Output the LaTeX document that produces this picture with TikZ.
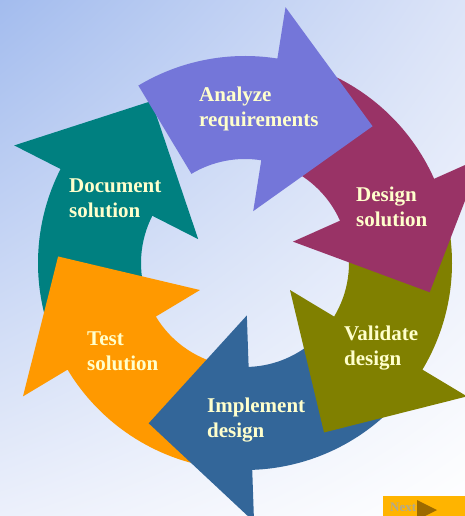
\documentclass[tikz,border=0pt]{standalone}
\usepackage{fontspec}
\setmainfont{Liberation Serif}
\usetikzlibrary{shadings}

\begin{document}
\begin{tikzpicture}[x=1pt,y=1pt,
		steplabel/.style={anchor=base west,align=left,inner sep=0pt,text=cream,font=\bfseries\fontsize{21}{25}\selectfont}]
					\definecolor{bgtopleft}{HTML}{A3BCEE}
					\definecolor{bgtopright}{HTML}{DCE4F8}
					\definecolor{bgbottomleft}{HTML}{ECF0FB}
					\definecolor{cream}{HTML}{FFFFCC}
					\definecolor{analyzeblue}{HTML}{7476D9}
					\definecolor{designred}{HTML}{993366}
					\definecolor{validateolive}{HTML}{808000}
					\definecolor{implementblue}{HTML}{336699}
					\definecolor{testorange}{HTML}{FF9900}
					\definecolor{documentteal}{HTML}{008080}
					\definecolor{buttonorange}{HTML}{FFB400}
					\definecolor{buttontext}{HTML}{B3A98C}
					\definecolor{buttonarrow}{HTML}{9C6A00}
					\useasboundingbox (-245,-253) rectangle (220,263);
					\shade[upper left=bgtopleft,upper right=bgtopright,lower left=bgbottomleft,lower right=white] (-245,-253) rectangle (220,263);
					
					\fill[documentteal] (200:104pt) arc[start angle=200,end angle=153,radius=104pt] -- (153:52.5pt) -- (120:187pt) -- (153:259pt) -- (153:207pt) arc[start angle=153,end angle=200,radius=207pt] -- cycle;
					\fill[testorange] (262:104pt) arc[start angle=262,end angle=211,radius=104pt] -- (211:52.5pt) -- (178:187pt) -- (211:259pt) -- (211:207pt) arc[start angle=211,end angle=262,radius=207pt] -- cycle;
					\fill[implementblue] (-41:104pt) arc[start angle=-41,end angle=-88,radius=104pt] -- (-88:52.5pt) -- (-121:187pt) -- (-88:259pt) -- (-88:207pt) arc[start angle=-88,end angle=-41,radius=207pt] -- cycle;
					\fill[validateolive] (14:104pt) arc[start angle=14,end angle=-31,radius=104pt] -- (-31:52.5pt) -- (-65:187pt) -- (-31:259pt) -- (-31:207pt) arc[start angle=-31,end angle=14,radius=207pt] -- cycle;
					\fill[designred] (71:104pt) arc[start angle=71,end angle=24,radius=104pt] -- (24:52.5pt) -- (-9:187pt) -- (24:259pt) -- (24:207pt) arc[start angle=24,end angle=71,radius=207pt] -- cycle;
					\fill[analyzeblue] (121:104pt) arc[start angle=121,end angle=81,radius=104pt] -- (81:52.5pt) -- (47:187pt) -- (81:259pt) -- (81:207pt) arc[start angle=81,end angle=121,radius=207pt] -- cycle;
					
					\node[steplabel] (analyze) at (-46,136) {Analyze\\requirements};
					\node[steplabel] (design) at (111,36) {Design\\solution};
					\node[steplabel] (validate) at (99,-102) {Validate\\design};
					\node[steplabel] (implement) at (-38,-174) {Implement\\design};
					\node[steplabel] (test) at (-158,-107) {Test\\solution};
					\node[steplabel] (document) at (-176,45) {Document\\solution};
					
					\fill[buttonorange] (138,-233) rectangle (220,-253);
					\node[anchor=base west,inner sep=0pt,text=buttontext,font=\bfseries\fontsize{13}{15}\selectfont] (next) at (145,-248) {Next};
					\fill[buttonarrow] (172,-237) -- (192,-247) -- (172,-257) -- cycle;
				\end{tikzpicture}
\end{document}
